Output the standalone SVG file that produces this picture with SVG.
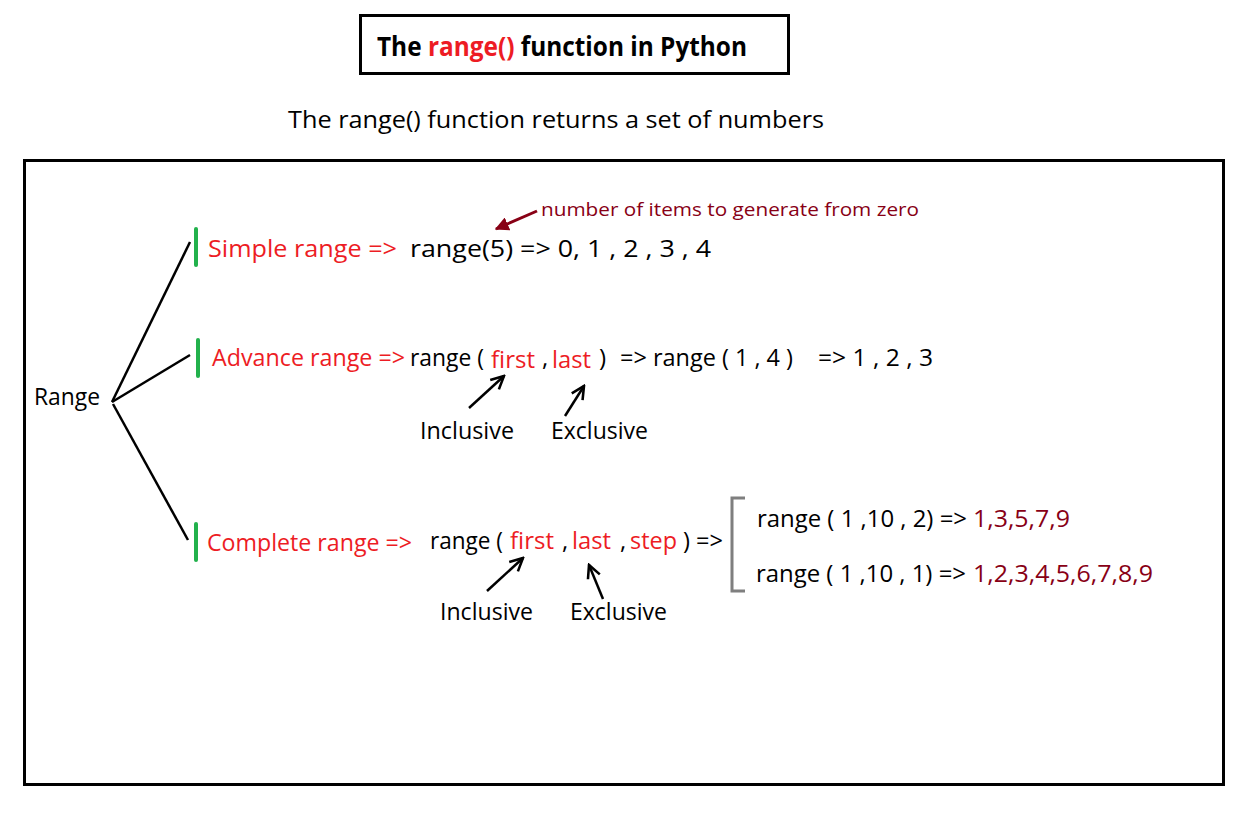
<svg xmlns="http://www.w3.org/2000/svg" width="1244" height="820" viewBox="0 0 1244 820">
<defs>
<style>
text{font-family:"Open Sans","Liberation Sans",sans-serif;font-size:24px;fill:#000;font-variant-ligatures:none}
.r{fill:#ed1c24}
.d{fill:#880015}
.b{font-weight:bold;font-size:26px}
.ln{stroke:#000;stroke-width:2.5;fill:none}
.g{stroke:#22b14c;stroke-width:4;stroke-linecap:round}
</style>
<marker id="ahd" viewBox="0 0 10 10" refX="9" refY="5" markerWidth="14" markerHeight="14" orient="auto" markerUnits="userSpaceOnUse">
<path d="M0,0 L10,5 L0,10 Z" fill="#880015"/>
</marker>
<marker id="ahk" viewBox="0 0 10 10" refX="9" refY="5" markerWidth="16" markerHeight="16" orient="auto" markerUnits="userSpaceOnUse">
<path d="M1,1 L9,5 L1,9" fill="none" stroke="#000" stroke-width="1.6"/>
</marker>
</defs>
<rect width="1244" height="820" fill="#fff"/>
<g id="title">
<rect x="360.5" y="15.5" width="428" height="58" fill="none" stroke="#000" stroke-width="3"/>
<text x="377" y="56" class="b" textLength="370" lengthAdjust="spacingAndGlyphs">The <tspan class="r">range()</tspan> function in Python</text>
</g>
<g id="subtitle"><text x="288" y="128" textLength="536" lengthAdjust="spacingAndGlyphs">The range() function returns a set of numbers</text></g>
<g id="frame"><rect x="24.5" y="160.5" width="1199" height="624" fill="none" stroke="#000" stroke-width="3"/></g>
<g id="range-root"><text x="34" y="405" textLength="66" lengthAdjust="spacingAndGlyphs">Range</text></g>
<g id="connectors">
<line class="ln" x1="112" y1="402" x2="190" y2="242"/>
<line class="ln" x1="112" y1="402" x2="190" y2="355"/>
<line class="ln" x1="113" y1="404" x2="188" y2="540"/>
<line class="ln" x1="537" y1="211" x2="496" y2="229" stroke="#880015" style="stroke:#880015;stroke-width:3" marker-end="url(#ahd)"/>
<line class="ln" x1="469" y1="408" x2="504" y2="376" marker-end="url(#ahk)"/>
<line class="ln" x1="565" y1="416" x2="584" y2="386" marker-end="url(#ahk)"/>
<line class="ln" x1="487" y1="591" x2="523" y2="558" marker-end="url(#ahk)"/>
<line class="ln" x1="603" y1="599" x2="589" y2="565" marker-end="url(#ahk)"/>
</g>
<g id="simple">
<line class="g" x1="196" y1="229" x2="196" y2="265"/>
<text x="208" y="257" class="r" textLength="189" lengthAdjust="spacingAndGlyphs">Simple range =&gt;</text>
<text x="410" y="257" textLength="301" lengthAdjust="spacingAndGlyphs">range(5) =&gt;  0, 1 , 2 , 3 , 4</text>
<text x="541" y="216" class="d" style="font-size:18px" textLength="378" lengthAdjust="spacingAndGlyphs">number of items to generate from zero</text>
</g>
<g id="advance">
<line class="g" x1="198" y1="340" x2="198" y2="376"/>
<text x="212" y="366" class="r" textLength="193" lengthAdjust="spacingAndGlyphs">Advance range =&gt;</text>
<text x="410" y="366" textLength="74" lengthAdjust="spacingAndGlyphs">range (</text>
<text x="491" y="368" class="r" textLength="44" lengthAdjust="spacingAndGlyphs">first</text>
<text x="542" y="366">,</text>
<text x="552" y="368" class="r" textLength="39" lengthAdjust="spacingAndGlyphs">last</text>
<text x="599" y="366">)</text>
<text x="620" y="366" textLength="173" lengthAdjust="spacingAndGlyphs">=&gt; range ( 1 , 4 )</text>
<text x="818" y="366" textLength="115" lengthAdjust="spacingAndGlyphs">=&gt;  1 , 2 , 3</text>
<text x="420" y="439" textLength="94" lengthAdjust="spacingAndGlyphs">Inclusive</text>
<text x="551" y="439" textLength="97" lengthAdjust="spacingAndGlyphs">Exclusive</text>
</g>
<g id="complete">
<line class="g" x1="196" y1="524" x2="196" y2="560"/>
<text x="207" y="551" class="r" textLength="205" lengthAdjust="spacingAndGlyphs">Complete range =&gt;</text>
<text x="430" y="549" textLength="73" lengthAdjust="spacingAndGlyphs">range (</text>
<text x="510" y="549" class="r" textLength="44" lengthAdjust="spacingAndGlyphs">first</text>
<text x="562" y="549">,</text>
<text x="572" y="549" class="r" textLength="39" lengthAdjust="spacingAndGlyphs">last</text>
<text x="620" y="549">,</text>
<text x="630" y="549" class="r" textLength="47" lengthAdjust="spacingAndGlyphs">step</text>
<text x="683" y="549" textLength="40" lengthAdjust="spacingAndGlyphs">) =&gt;</text>
<text x="440" y="620" textLength="93" lengthAdjust="spacingAndGlyphs">Inclusive</text>
<text x="570" y="620" textLength="97" lengthAdjust="spacingAndGlyphs">Exclusive</text>
<path d="M745,498 H732 V591 H745" fill="none" stroke="#7f7f7f" stroke-width="3"/>
<text x="757" y="527" textLength="210" lengthAdjust="spacingAndGlyphs">range ( 1 ,10 , 2) =&gt;</text>
<text x="973" y="527" class="d" textLength="97" lengthAdjust="spacingAndGlyphs">1,3,5,7,9</text>
<text x="756" y="582" textLength="210" lengthAdjust="spacingAndGlyphs">range ( 1 ,10 , 1) =&gt;</text>
<text x="973" y="582" class="d" textLength="180" lengthAdjust="spacingAndGlyphs">1,2,3,4,5,6,7,8,9</text>
</g>
</svg>
